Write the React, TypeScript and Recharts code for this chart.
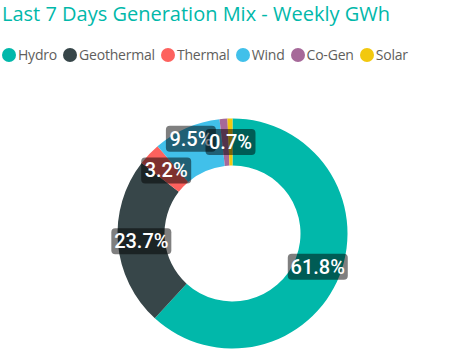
import { Cell, Pie, PieChart } from 'recharts';

const SOURCES = ['Hydro', 'Geothermal', 'Thermal', 'Wind', 'Co-Gen', 'Solar'];
const SHARES = [61.8, 23.7, 3.2, 9.5, 1.1, 0.7];
const COLORS = ['#01B8AA', '#374649', '#FD625E', '#41C0EA', '#A66999', '#F2C80F'];
// Power BI drops labels that collide with a neighbour
const HIDDEN_LABELS = ['Co-Gen'];
// and pushes some aside a little
const LABEL_SHIFT: Record<string, [number, number]> = { Wind: [-5, -11] };

const data = SOURCES.map((name, i) => ({ name, value: SHARES[i] }));

const RADIAN = Math.PI / 180;

function renderLabel(props: any) {
  const { cx, cy, midAngle, innerRadius, outerRadius, percent, name } = props;
  if (HIDDEN_LABELS.includes(name)) return null;
  const r = (innerRadius + outerRadius) / 2;
  const [dx, dy] = LABEL_SHIFT[name] ?? [0, 0];
  const x = cx + r * Math.cos(-midAngle * RADIAN) + dx;
  const y = cy + r * Math.sin(-midAngle * RADIAN) + dy;
  const text = `${(percent * 100).toFixed(1)}%`;
  const w = text.length * 10 + 10;
  const h = 26;
  return (
    <g>
      <rect x={x - w / 2} y={y - h / 2} width={w} height={h} rx={4} fill="rgba(0,0,0,0.5)" />
      <text
        x={x}
        y={y}
        textAnchor="middle"
        dominantBaseline="central"
        fill="#fff"
        fontFamily="Roboto, sans-serif"
        fontSize={20}
        fontWeight={500}
      >
        {text}
      </text>
    </g>
  );
}

export default function App() {
  return (
    <div style={{ position: 'absolute', left: 0, top: 0, width: 449, height: 363, background: '#fff' }}>
      <div
        style={{
          position: 'absolute',
          left: 2,
          top: 0,
          fontFamily: '"Open Sans", sans-serif',
          fontSize: 20,
          color: '#01B8AA',
          whiteSpace: 'nowrap',
        }}
      >
        Last 7 Days Generation Mix - Weekly GWh
      </div>
      <div
        style={{
          position: 'absolute',
          left: 2,
          top: 45,
          display: 'flex',
          alignItems: 'center',
          fontFamily: '"Open Sans", sans-serif',
          fontSize: 14,
          letterSpacing: -0.2,
          color: '#605E5C',
          whiteSpace: 'nowrap',
        }}
      >
        {SOURCES.map((name, i) => (
          <div key={name} style={{ display: 'flex', alignItems: 'center', marginRight: 6 }}>
            <span
              style={{
                display: 'inline-block',
                width: 14,
                height: 14,
                borderRadius: '50%',
                background: COLORS[i],
                marginRight: 2,
              }}
            />
            <span>{name}</span>
          </div>
        ))}
      </div>
      <div style={{ position: 'absolute', left: 0, top: 0 }}>
        <PieChart width={449} height={363}>
          <Pie
            data={data}
            dataKey="value"
            nameKey="name"
            cx={227.5}
            cy={228.5}
            innerRadius={68}
            outerRadius={115}
            startAngle={90}
            endAngle={-270}
            stroke="none"
            label={renderLabel}
            labelLine={false}
            isAnimationActive={false}
          >
            {data.map((d, i) => (
              <Cell key={d.name} fill={COLORS[i]} />
            ))}
          </Pie>
        </PieChart>
      </div>
    </div>
  );
}
